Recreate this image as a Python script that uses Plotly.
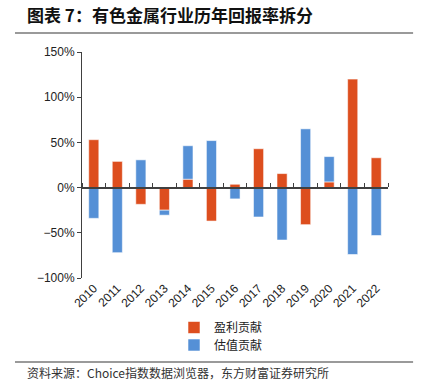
import plotly.graph_objects as go

years = ["2010", "2011", "2012", "2013", "2014", "2015", "2016",
         "2017", "2018", "2019", "2020", "2021", "2022"]
earnings = [53, 29, -18.5, -25, 9.3, -37, 3.7, 43, 15.5, -41, 6.3, 120, 33]
valuation = [-34, -72, 30.7, -5.5, 37, 52, -12.5, -32.5, -58, 65, 28, -74, -53]
y_ticks = [-100, -50, 0, 50, 100, 150]
y_tick_labels = ["\u2212100%", "\u221250%", "0%", "50%", "100%", "150%"]

RED = "#DD4E1E"
BLUE = "#5590D6"
FONT = "Liberation Sans, Arial, sans-serif"
CJK = "Noto Sans CJK SC, sans-serif"

fig = go.Figure()
fig.add_trace(go.Bar(x=years, y=earnings, name="盈利贡献", legend="legend",
                     marker=dict(color=RED, line=dict(color="rgba(255,255,255,0.55)", width=1))))
fig.add_trace(go.Bar(x=years, y=valuation, name="估值贡献", legend="legend2",
                     marker=dict(color=BLUE, line=dict(color="rgba(255,255,255,0.55)", width=1))))
# helper trace for the zero-line category axis
fig.add_trace(go.Bar(x=years, y=[None] * len(years), xaxis="x2", showlegend=False,
                     hoverinfo="skip"))

legend_common = dict(xanchor="left", yanchor="middle",
                     font=dict(family=CJK, size=12, color="#222"),
                     itemwidth=30, bgcolor="rgba(0,0,0,0)",
                     borderwidth=0)

fig.update_layout(
    width=427, height=392,
    margin=dict(l=82, r=39, t=52, b=114, autoexpand=False),
    paper_bgcolor="white", plot_bgcolor="white",
    barmode="relative", bargap=0.57,
    showlegend=True,
    legend=dict(x=(174 - 82) / 306, y=(278 - 327.5) / 226, **legend_common),
    legend2=dict(x=(174 - 82) / 306, y=(278 - 345) / 226, **legend_common),
    title=dict(text="<b>图表 7：有色金属行业历年回报率拆分</b>",
               x=27 / 427, xref="container", xanchor="left",
               y=1 - 16 / 392, yref="container", yanchor="middle",
               font=dict(family=CJK, size=17, color="#111")),
    xaxis=dict(type="category", showline=False, ticks="", showgrid=False,
               zeroline=False, tickangle=-45,
               tickfont=dict(family=FONT, size=12, color="#222")),
    xaxis2=dict(type="category", overlaying="x", matches="x", anchor="free",
                position=0.4, side="top", showline=True, linecolor="#404040",
                linewidth=1.5, ticks="outside", ticklen=4, tickwidth=1,
                tickcolor="#404040", tickson="boundaries",
                showticklabels=False, showgrid=False, zeroline=False),
    yaxis=dict(range=[-100, 150], tickvals=y_ticks, ticktext=y_tick_labels,
               showline=True, linecolor="#404040", linewidth=1,
               ticks="outside", ticklen=4, tickcolor="#404040",
               showgrid=False, zeroline=False,
               tickfont=dict(family=FONT, size=12, color="#222")),
    shapes=[
        dict(type="line", xref="paper", yref="paper", x0=-0.219, x1=1.082,
             y0=1.084, y1=1.084, line=dict(color="#9a9a9a", width=2)),
        dict(type="line", xref="paper", yref="paper", x0=-0.219, x1=1.082,
             y0=-0.372, y1=-0.372, line=dict(color="#9a9a9a", width=2)),
    ],
    annotations=[
        dict(text="资料来源：Choice指数数据浏览器，东方财富证券研究所",
             xref="paper", yref="paper", x=(25 - 82) / 306, y=(278 - 372) / 226,
             xanchor="left", yanchor="middle", showarrow=False,
             font=dict(family=CJK, size=12, color="#333")),
    ],
)

fig.write_html("out.html", config={"displayModeBar": False},
               post_script="document.body.style.margin='0';document.body.style.overflow='hidden';")
